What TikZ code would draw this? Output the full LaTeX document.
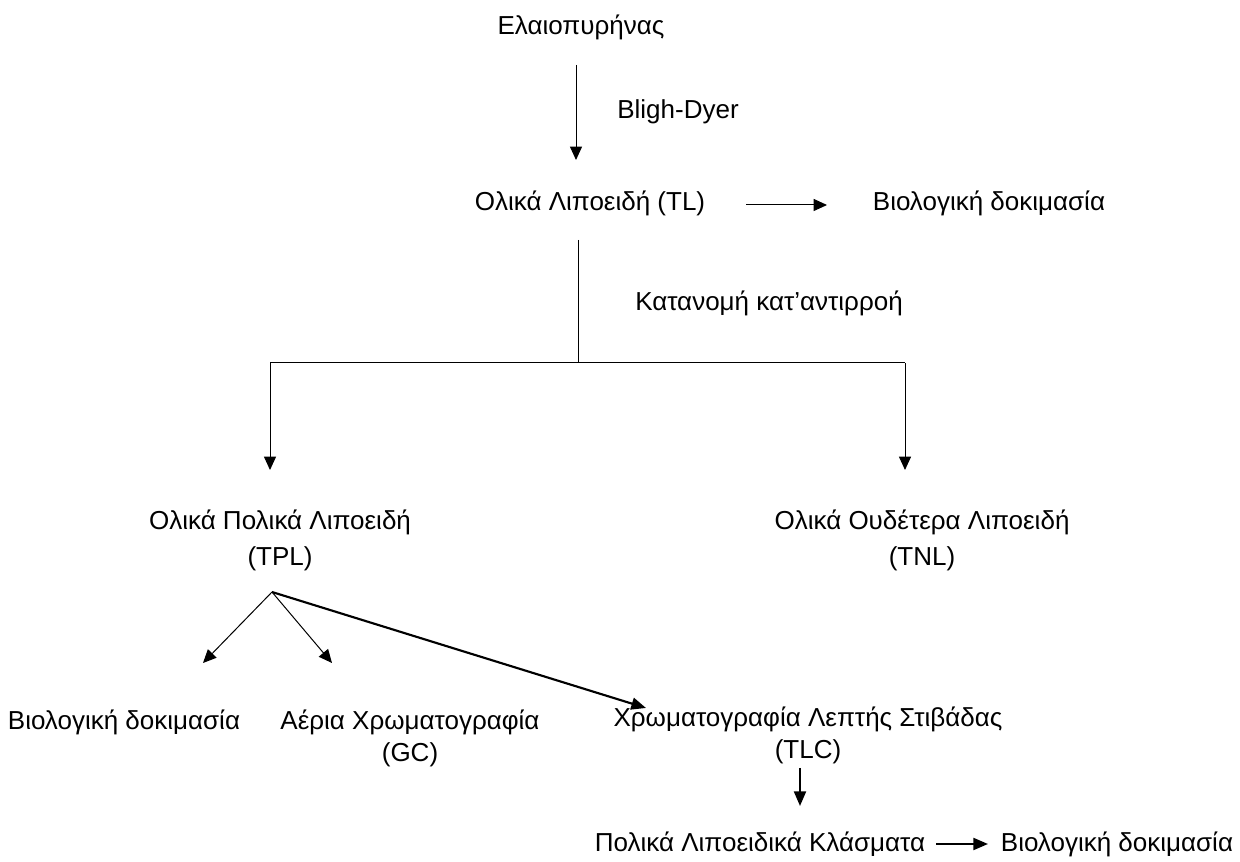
\documentclass[tikz,border=0pt]{standalone}
\usepackage{fontspec}
\setmainfont{Liberation Sans}
\usetikzlibrary{arrows.meta}
\begin{document}
\begin{tikzpicture}[x=0.75pt,y=-0.75pt,
  lbl/.style={inner sep=0pt,font=\fontsize{19.5}{24}\selectfont,align=center},
  wide/.style={font=\fontsize{19.5}{27}\selectfont},
  thin/.style={line width=0.75pt,-{Triangle[width=9pt,length=10pt]}},
  thick/.style={line width=1.6pt,-{Triangle[width=9pt,length=11pt]}},
  plain/.style={line width=0.75pt}]
\useasboundingbox (0,0) rectangle (1240,862);
% nodes
\node[lbl] (olive) at (581,27) {Ελαιοπυρήνας};
\node[lbl] (bd) at (678,112) {Bligh-Dyer};
\node[lbl] (tl) at (590,203) {Ολικά Λιποειδή (TL)};
\node[lbl] (bio1) at (989,203) {Βιολογική δοκιμασία};
\node[lbl] (ccd) at (769,303) {Κατανομή κατ’αντιρροή};
\node[lbl,wide] (tpl) at (280,540) {Ολικά Πολικά Λιποειδή\\(TPL)};
\node[lbl,wide] (tnl) at (922,540) {Ολικά Ουδέτερα Λιποειδή\\(TNL)};
\node[lbl] (bio2) at (124,722) {Βιολογική δοκιμασία};
\node[lbl] (gc) at (410,738) {Αέρια Χρωματογραφία\\(GC)};
\node[lbl] (tlc) at (808,735) {Χρωματογραφία Λεπτής Στιβάδας\\(TLC)};
\node[lbl] (plk) at (760,844) {Πολικά Λιποειδικά Κλάσματα};
\node[lbl] (bio3) at (1117,844) {Βιολογική δοκιμασία};
% coordinates
\coordinate (a1s) at (576,65);
\coordinate (a1e) at (576,160);
\coordinate (a2s) at (746,205);
\coordinate (a2e) at (827,205);
\coordinate (vs) at (578,240);
\coordinate (vm) at (578,363);
\coordinate (hl) at (270,363);
\coordinate (hr) at (905,363);
\coordinate (dl) at (270,470);
\coordinate (dr) at (905,470);
\coordinate (ap) at (272,592);
\coordinate (ebio) at (203,663);
\coordinate (egc) at (332,663);
\coordinate (etlc) at (646,708);
\coordinate (ts) at (800,768);
\coordinate (te) at (800,806);
\coordinate (ps) at (936,844);
\coordinate (pe) at (988,844);
% connectors
\draw[thin] (a1s) -- (a1e);
\draw[thin] (a2s) -- (a2e);
\draw[plain] (vs) -- (vm);
\draw[plain] (hl) -- (hr);
\draw[thin] (hl) -- (dl);
\draw[thin] (hr) -- (dr);
\draw[thin] (ap) -- (ebio);
\draw[thin] (ap) -- (egc);
\draw[thick] (ap) -- (etlc);
\draw[thick] (ts) -- (te);
\draw[thick] (ps) -- (pe);
\end{tikzpicture}
\end{document}
